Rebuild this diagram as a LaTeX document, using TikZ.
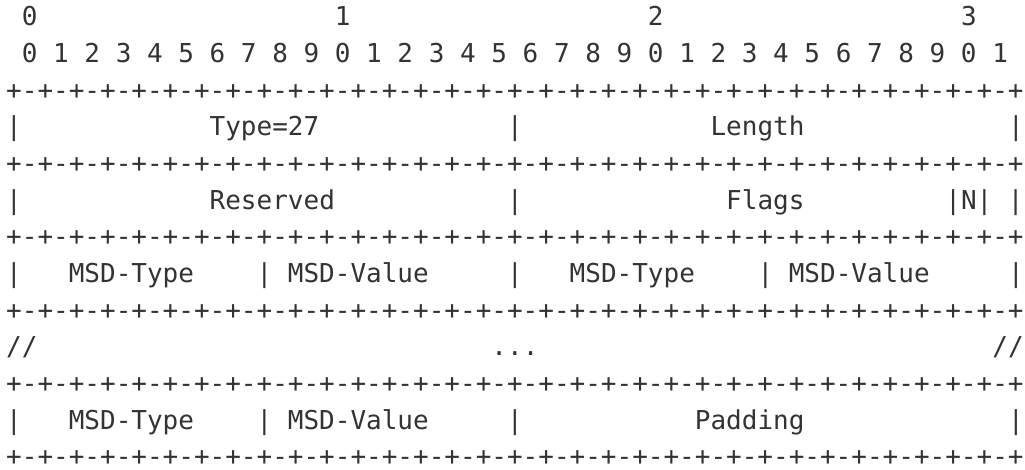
\documentclass[tikz,border=0pt]{standalone}
\usepackage{fontspec}
\setmonofont{DejaVu Sans Mono}
\definecolor{ink}{HTML}{333333}
\newcommand{\skipcols}[1]{\hskip #1\fontdimen2\font\relax}
\newcommand{\plusline}{\foreach \i in {1,...,32}{+-}+}

\begin{document}
\begin{tikzpicture}[x=1pt, y=1pt,
	asciirow/.style={anchor=base west, inner sep=0pt, outer sep=0pt, text=ink,
		font=\ttfamily\fontsize{13}{13}\selectfont}]
		%%%%% START %%%%%
		\useasboundingbox (0, 0) rectangle (512.5, 235);
		
		\node[asciirow] (tens) at (3.1, 222) {\skipcols{1}0\skipcols{19}1\skipcols{19}2\skipcols{19}3};
		\node[asciirow] (bits) at (3.1, 203.67) {\skipcols{1}0 1 2 3 4 5 6 7 8 9 0 1 2 3 4 5 6 7 8 9 0 1 2 3 4 5 6 7 8 9 0 1};
		\node[asciirow] (edgeA) at (3.1, 185.33) {\plusline};
		
		\node[asciirow] (typerow) at (3.1, 167) {|\skipcols{12}Type=27\skipcols{12}|\skipcols{12}Length\skipcols{13}|};
		\node[asciirow] (edgeB) at (3.1, 148.67) {\plusline};
		
		\node[asciirow] (flagrow) at (3.1, 130.33) {|\skipcols{12}Reserved\skipcols{11}|\skipcols{13}Flags\skipcols{9}|N|\skipcols{1}|};
		\node[asciirow] (edgeC) at (3.1, 112) {\plusline};
		
		\node[asciirow] (msdrowA) at (3.1, 93.67) {|\skipcols{3}MSD-Type\skipcols{4}|\skipcols{1}MSD-Value\skipcols{5}|\skipcols{3}MSD-Type\skipcols{4}|\skipcols{1}MSD-Value\skipcols{5}|};
		\node[asciirow] (edgeD) at (3.1, 75.33) {\plusline};
		
		\node[asciirow] (dots) at (3.1, 57) {//\skipcols{29}...\skipcols{29}//};
		\node[asciirow] (edgeE) at (3.1, 38.67) {\plusline};
		
		\node[asciirow] (msdrowB) at (3.1, 20.33) {|\skipcols{3}MSD-Type\skipcols{4}|\skipcols{1}MSD-Value\skipcols{5}|\skipcols{11}Padding\skipcols{13}|};
		\node[asciirow] (edgeF) at (3.1, 2) {\plusline};
		
		%%%%% END %%%%%
\end{tikzpicture}
\end{document}
